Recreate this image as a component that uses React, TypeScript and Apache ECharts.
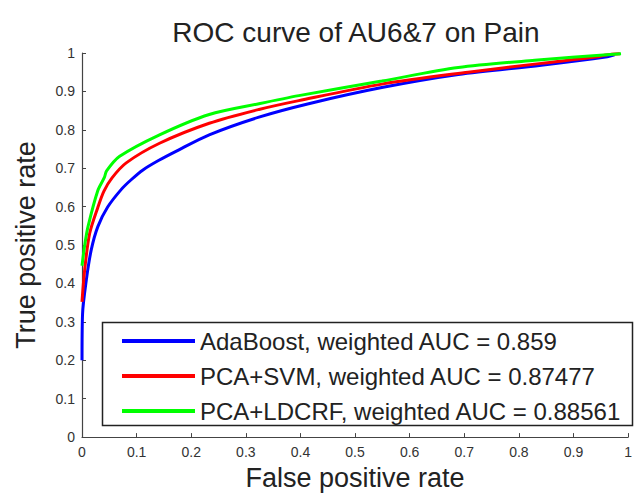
import React, { useEffect, useRef } from "react";
import * as echarts from "echarts";

const titleText = "ROC curve of AU6&7 on Pain";
const xName = "False positive rate";
const yName = "True positive rate";
const seriesNames = [
  "AdaBoost, weighted AUC = 0.859",
  "PCA+SVM, weighted AUC = 0.87477",
  "PCA+LDCRF, weighted AUC = 0.88561",
];
const seriesColors = ["#0000ff", "#ff0000", "#00ff00"];

const adaBoost: [number, number][] = [
  [0, 0.2], [0.001, 0.32], [0.008, 0.41], [0.017, 0.488], [0.029, 0.548],
  [0.047, 0.599], [0.072, 0.645], [0.09, 0.67], [0.111, 0.695], [0.14, 0.72],
  [0.172, 0.744], [0.233, 0.787], [0.324, 0.833], [0.415, 0.868], [0.549, 0.91],
  [0.689, 0.944], [0.841, 0.968], [0.962, 0.99], [0.975, 0.995],
];
const pcaSvm: [number, number][] = [
  [0, 0.352], [0.005, 0.437], [0.014, 0.53], [0.029, 0.598], [0.04, 0.64],
  [0.055, 0.675], [0.081, 0.714], [0.142, 0.765], [0.233, 0.817], [0.324, 0.853],
  [0.397, 0.876], [0.549, 0.919], [0.707, 0.95], [0.841, 0.973], [0.944, 0.99],
  [0.96, 0.995], [0.985, 0.998],
];
const pcaLdcrf: [number, number][] = [
  [0, 0.446], [0.005, 0.5], [0.011, 0.548], [0.029, 0.642], [0.041, 0.676],
  [0.045, 0.693], [0.069, 0.731], [0.142, 0.787], [0.233, 0.84], [0.324, 0.868],
  [0.397, 0.889], [0.549, 0.927], [0.689, 0.962], [0.829, 0.981], [0.987, 0.998],
];
const seriesData = [adaBoost, pcaSvm, pcaLdcrf];

const FONT = "'Liberation Sans', Arial, sans-serif";

export default function App() {
  const ref = useRef<HTMLDivElement>(null);
  useEffect(() => {
    if (!ref.current) return;
    const chart = echarts.init(ref.current, undefined, { renderer: "svg" });
    const axisCommon = {
      type: "value" as const,
      min: 0,
      max: 1,
      interval: 0.1,
      nameLocation: "middle" as const,
      nameTextStyle: { fontSize: 27, color: "#222", fontFamily: FONT },
      axisLine: { show: true, lineStyle: { color: "#444", width: 1.2 } },
      axisTick: { show: true, inside: true, length: 4, lineStyle: { color: "#444" } },
      axisLabel: { fontSize: 14, color: "#333", fontFamily: FONT },
      splitLine: { show: false },
    };
    chart.setOption({
      animation: false,
      backgroundColor: "#fff",
      title: {
        text: titleText,
        left: 351,
        top: 13,
        textAlign: "center",
        textStyle: { fontSize: 28, fontWeight: "normal", color: "#222", fontFamily: FONT },
      },
      grid: { left: 82, right: 4, top: 53, bottom: 52, containLabel: false },
      xAxis: {
        ...axisCommon,
        name: xName,
        nameGap: 21,
        axisLabel: { ...axisCommon.axisLabel, margin: 8 },
      },
      yAxis: {
        ...axisCommon,
        name: yName,
        nameGap: 43,
        nameTextStyle: { ...axisCommon.nameTextStyle, fontSize: 27 },
        axisLabel: { ...axisCommon.axisLabel, margin: 7 },
      },
      legend: {
        orient: "vertical",
        left: 117,
        top: 324,
        icon: "rect",
        itemWidth: 73,
        itemHeight: 4,
        itemGap: 11,
        selectedMode: false,
        textStyle: { fontSize: 24, color: "#222", fontFamily: FONT, lineHeight: 20 },
        data: seriesNames,
      },
      graphic: [
        {
          type: "rect",
          z: 3,
          shape: { x: 102.5, y: 322.5, width: 530, height: 103 },
          style: { fill: "#fff", stroke: "#222", lineWidth: 1.5 },
        },
      ],
      series: seriesNames.map((name, i) => ({
        name,
        type: "line",
        data: seriesData[i],
        showSymbol: false,
        smooth: 0.3,
        lineStyle: { color: seriesColors[i], width: 3 },
        itemStyle: { color: seriesColors[i] },
        z: 2 + i * 0.01,
      })),
    });
    return () => chart.dispose();
  }, []);
  return (
    <div
      ref={ref}
      style={{ position: "absolute", left: 0, top: 0, width: 635, height: 496 }}
    />
  );
}
